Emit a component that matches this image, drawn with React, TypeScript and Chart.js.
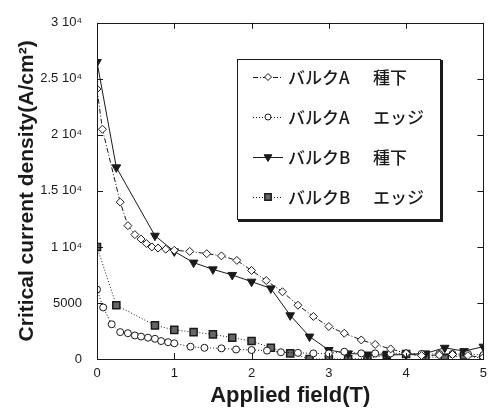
import React, { useEffect, useRef } from "react";
import { Chart, registerables } from "chart.js";
import { drawPoint } from "chart.js/helpers";

Chart.register(...registerables);

// ---- data ----
const fieldASeed = [0, 0.07, 0.3, 0.4, 0.49, 0.57, 0.64, 0.71, 0.79, 0.89, 1.0, 1.2, 1.42, 1.61, 1.81, 2.0, 2.19, 2.4, 2.6, 2.8, 3.0, 3.2, 3.42, 3.6, 3.8, 4.0, 4.2, 4.43, 4.6, 4.8, 5.0];
const currentASeed = [24100, 20500, 14000, 11900, 11100, 10700, 10300, 10000, 9900, 9800, 9700, 9600, 9400, 9200, 8800, 7900, 7000, 6000, 4800, 3800, 2900, 2300, 1700, 1300, 900, 500, 300, 350, 400, 300, 150];

const fieldAEdge = [0, 0.08, 0.19, 0.3, 0.4, 0.49, 0.57, 0.66, 0.75, 0.83, 0.92, 1.0, 1.21, 1.39, 1.61, 1.8, 2.0, 2.2, 2.38, 2.6, 2.8, 3.0, 3.2, 3.42, 3.6, 3.8, 4.0, 4.2, 4.43, 4.6, 4.8, 5.0];
const currentAEdge = [6200, 4600, 3100, 2400, 2300, 2100, 2000, 1900, 1800, 1600, 1500, 1400, 1100, 1000, 950, 850, 800, 750, 600, 550, 500, 500, 650, 500, 500, 500, 500, 450, 450, 450, 450, 350];

const fieldB = [0, 0.25, 0.75, 1.0, 1.25, 1.5, 1.75, 2.0, 2.25, 2.5, 2.75, 3.0, 3.25, 3.5, 3.75, 4.0, 4.25, 4.5, 4.75, 5.0];
const currentBSeed = [26500, 17100, 11000, 9600, 8600, 8000, 7500, 6900, 6300, 3900, 2000, 800, 500, 400, 350, 400, 500, 1000, 700, 1100];
const currentBEdge = [10000, 4800, 3000, 2600, 2400, 2200, 1900, 1600, 1000, 500, 0, 0, 0, 50, 350, 450, 200, 100, 300, 50];

const seriesNames: [string, string][] = [
  ["バルクA", "種下"],
  ["バルクA", "エッジ"],
  ["バルクB", "種下"],
  ["バルクB", "エッジ"],
];

const xTicks = [0, 1, 2, 3, 4, 5];
const yTicks = [0, 5000, 10000, 15000, 20000, 25000, 30000];
const yTickLabels = ["0", "5000", "1 10⁴", "1.5 10⁴", "2 10⁴", "2.5 10⁴", "3 10⁴"];

const xTitle = "Applied field(T)";
const yTitle = "Critical current density(A/cm²)";

const INK = "#1a1a1a";

const toPts = (xs: number[], ys: number[]) => xs.map((x, i) => ({ x, y: ys[i] }));

const frameAndTicks = {
  id: "frameAndTicks",
  afterDatasetsDraw(chart: any) {
    const { ctx, chartArea: a, scales } = chart;
    ctx.save();
    ctx.strokeStyle = INK;
    ctx.lineWidth = 1;
    ctx.strokeRect(Math.round(a.left) + 0.5, Math.round(a.top) + 0.5, Math.round(a.right - a.left), Math.round(a.bottom - a.top));
    const len = 6;
    ctx.beginPath();
    for (const v of xTicks) {
      const px = Math.round(scales.x.getPixelForValue(v)) + 0.5;
      ctx.moveTo(px, a.bottom);
      ctx.lineTo(px, a.bottom - len);
      ctx.moveTo(px, a.top);
      ctx.lineTo(px, a.top + len);
    }
    for (const v of yTicks) {
      const py = Math.round(scales.y.getPixelForValue(v)) + 0.5;
      ctx.moveTo(a.left, py);
      ctx.lineTo(a.left + len, py);
      ctx.moveTo(a.right, py);
      ctx.lineTo(a.right - len, py);
    }
    ctx.stroke();
    ctx.restore();
  },
};

const boxLegend = {
  id: "boxLegend",
  afterDraw(chart: any) {
    const { ctx } = chart;
    const L = 237, T = 59, R = 440, B = 219;
    ctx.save();
    ctx.fillStyle = "#ffffff";
    ctx.fillRect(L, T, R - L, B - T);
    ctx.strokeStyle = INK;
    ctx.lineWidth = 1;
    ctx.strokeRect(L + 0.5, T + 0.5, R - L, B - T);
    ctx.lineWidth = 3;
    ctx.beginPath();
    ctx.moveTo(R + 1.5, T + 1);
    ctx.lineTo(R + 1.5, B + 1.5);
    ctx.lineTo(L + 1, B + 1.5);
    ctx.stroke();

    chart.data.datasets.forEach((ds: any, i: number) => {
      const y = 77 + 40 * i;
      ctx.strokeStyle = ds.borderColor;
      ctx.lineWidth = ds.borderWidth;
      ctx.setLineDash(ds.borderDash || []);
      ctx.beginPath();
      ctx.moveTo(253, y + 0.5);
      ctx.lineTo(283, y + 0.5);
      ctx.stroke();
      ctx.setLineDash([]);
      ctx.fillStyle = ds.pointBackgroundColor;
      ctx.strokeStyle = ds.pointBorderColor;
      ctx.lineWidth = ds.pointBorderWidth;
      drawPoint(ctx, { pointStyle: ds.pointStyle, rotation: ds.pointRotation || 0, radius: ds.pointRadius - 0.5, borderWidth: ds.pointBorderWidth }, 268, y);
      ctx.fillStyle = INK;
      ctx.font = '500 17px "Noto Sans CJK JP"';
      ctx.textBaseline = "middle";
      ctx.textAlign = "left";
      ctx.fillText(seriesNames[i][0], 288, y + 1);
      ctx.fillText(seriesNames[i][1], 373, y + 1);
    });
    ctx.restore();
  },
};

export default function App() {
  const ref = useRef<HTMLCanvasElement>(null);

  useEffect(() => {
    const canvas = ref.current;
    if (!canvas) return;
    const chart = new Chart(canvas, {
      type: "line",
      data: {
        datasets: [
          {
            label: seriesNames[0].join(" "),
            data: toPts(fieldASeed, currentASeed),
            borderColor: INK,
            borderWidth: 1,
            borderDash: [5, 2, 1, 2],
            pointStyle: "rectRot",
            pointRadius: 4,
            pointBackgroundColor: "#ffffff",
            pointBorderColor: INK,
            pointBorderWidth: 1,
          },
          {
            label: seriesNames[1].join(" "),
            data: toPts(fieldAEdge, currentAEdge),
            borderColor: INK,
            borderWidth: 1,
            borderDash: [1, 2],
            pointStyle: "circle",
            pointRadius: 3.5,
            pointBackgroundColor: "#ffffff",
            pointBorderColor: INK,
            pointBorderWidth: 1,
          },
          {
            label: seriesNames[2].join(" "),
            data: toPts(fieldB, currentBSeed),
            borderColor: INK,
            borderWidth: 1,
            borderDash: [],
            pointStyle: "triangle",
            pointRotation: 180,
            pointRadius: 5,
            pointBackgroundColor: INK,
            pointBorderColor: INK,
            pointBorderWidth: 1,
          },
          {
            label: seriesNames[3].join(" "),
            data: toPts(fieldB, currentBEdge),
            borderColor: INK,
            borderWidth: 1,
            borderDash: [1, 2],
            pointStyle: "rect",
            pointRadius: 5,
            pointBackgroundColor: "#666666",
            pointBorderColor: INK,
            pointBorderWidth: 1.5,
          },
        ] as any,
      },
      options: {
        animation: false,
        responsive: false,
        events: [],
        layout: { padding: { top: 15, right: 9, left: 0, bottom: 0 } },
        plugins: { legend: { display: false }, tooltip: { enabled: false } },
        scales: {
          x: {
            type: "linear",
            min: 0,
            max: 5,
            afterBuildTicks: (s: any) => { s.ticks = xTicks.map((v) => ({ value: v })); },
            afterFit: (s: any) => { s.height = 51; },
            grid: { display: false, drawTicks: false },
            border: { display: false },
            ticks: {
              padding: 7,
              color: INK,
              font: { family: '"Liberation Sans Narrow", "Liberation Sans", Arial', size: 13 },
              callback: (v: any) => String(v),
            },
            title: {
              display: true,
              text: xTitle,
              color: INK,
              font: { family: '"Liberation Sans", Arial', size: 22, weight: "bold" },
              padding: { top: 0, bottom: 1 },
            },
          },
          y: {
            type: "linear",
            min: 0,
            max: 30000,
            afterBuildTicks: (s: any) => { s.ticks = yTicks.map((v) => ({ value: v })); },
            afterFit: (s: any) => { s.width = 97; },
            grid: { display: false, drawTicks: false },
            border: { display: false },
            ticks: {
              padding: 15,
              color: INK,
              font: { family: '"Liberation Sans Narrow", "Liberation Sans", Arial', size: 13 },
              callback: (v: any) => {
                const i = yTicks.indexOf(Number(v));
                return i >= 0 ? yTickLabels[i] : "";
              },
            },
            title: {
              display: true,
              text: yTitle,
              color: INK,
              font: { family: '"Liberation Sans", Arial', size: 21, weight: "bold" },
              padding: { top: 15, bottom: 0 },
            },
          },
        },
      },
      plugins: [frameAndTicks, boxLegend],
    });
    return () => chart.destroy();
  }, []);

  return (
    <div style={{ position: "absolute", left: 0, top: 0, width: 494, height: 410, background: "#fff" }}>
      <canvas ref={ref} width={494} height={410} style={{ display: "block" }} />
    </div>
  );
}
